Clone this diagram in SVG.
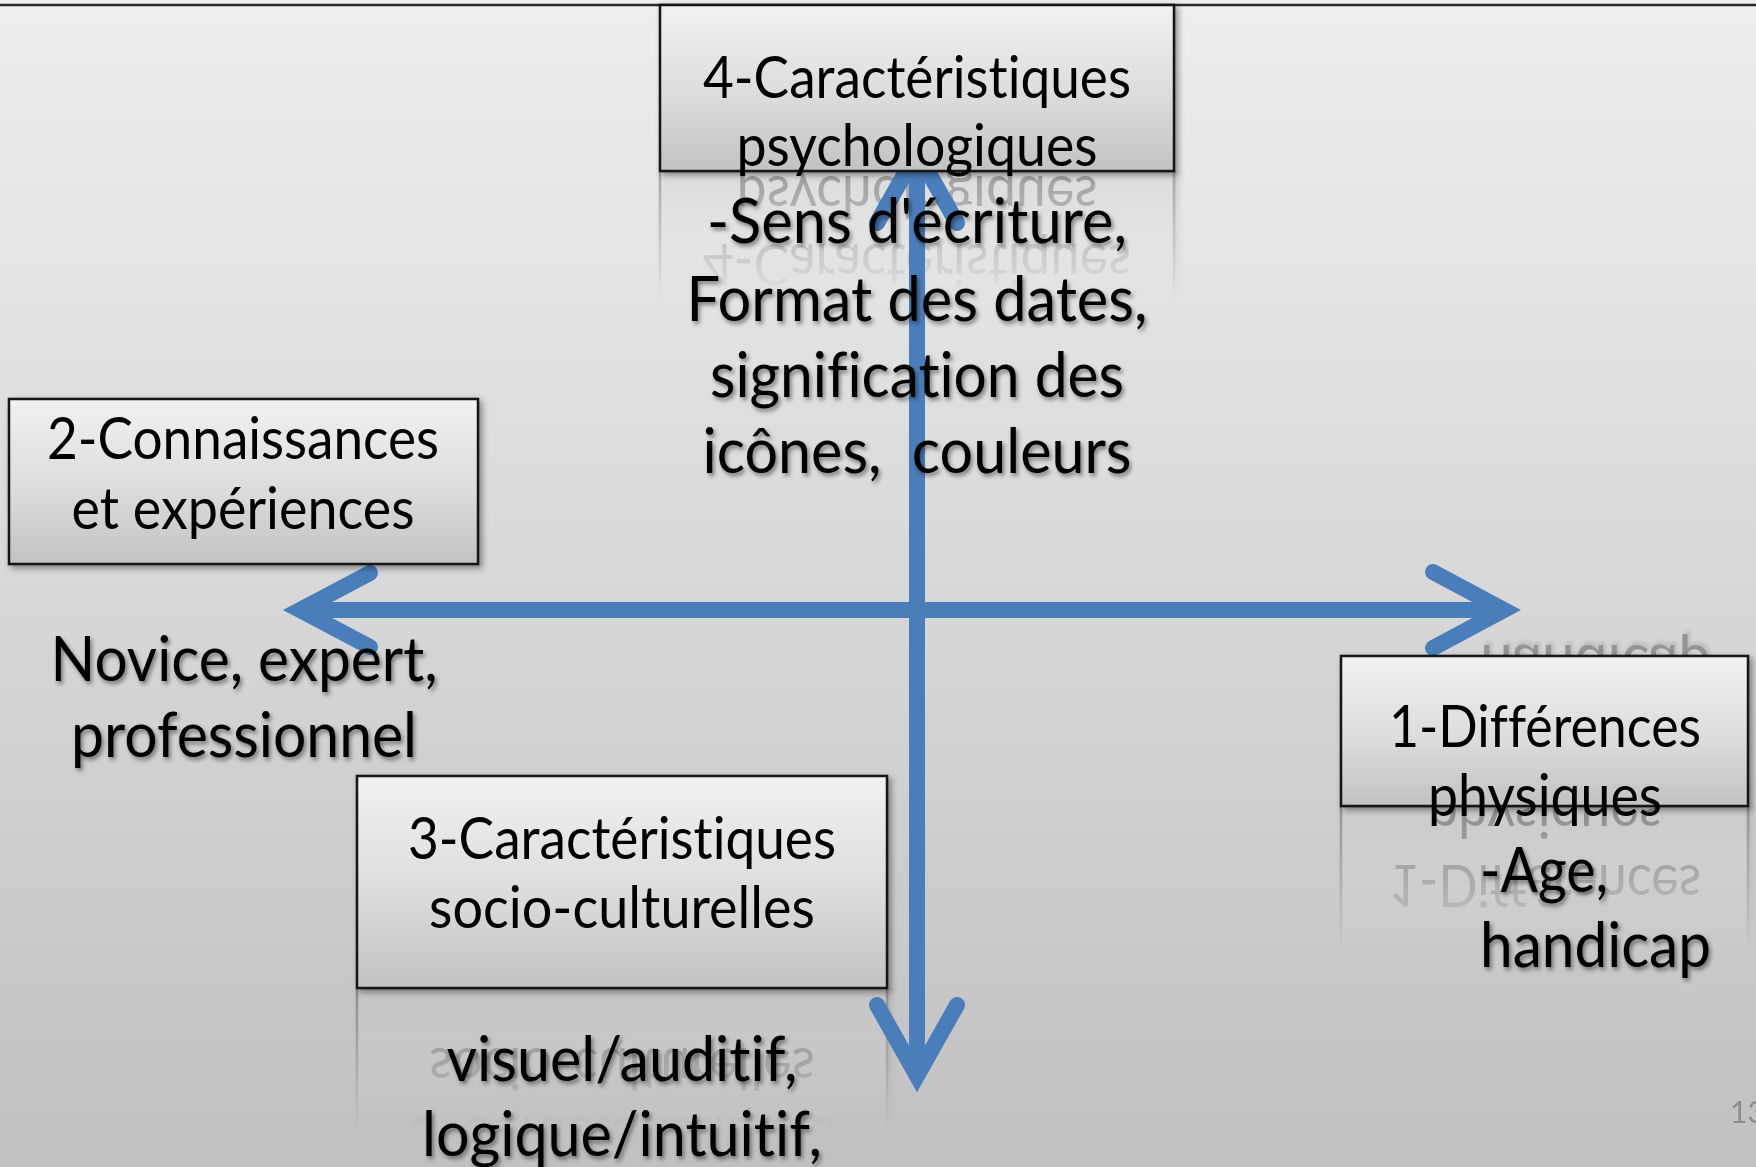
<svg xmlns="http://www.w3.org/2000/svg" width="1756" height="1167" viewBox="0 0 1756 1167">
<defs>
  <linearGradient id="bg" x1="0" y1="0" x2="0" y2="1">
    <stop offset="0" stop-color="#eeeeee"/>
    <stop offset="0.5" stop-color="#d8d8d8"/>
    <stop offset="1" stop-color="#c0c0c0"/>
  </linearGradient>
  <linearGradient id="boxfill" x1="0" y1="0" x2="0" y2="1">
    <stop offset="0" stop-color="#f1f1f1"/>
    <stop offset="0.55" stop-color="#dcdcdc"/>
    <stop offset="1" stop-color="#c2c2c2"/>
  </linearGradient>
  <filter id="boxShadow" x="-10%" y="-10%" width="130%" height="140%">
    <feDropShadow dx="3" dy="3" stdDeviation="3" flood-color="#000" flood-opacity="0.4"/>
  </filter>
  <filter id="txtShadow" x="-10%" y="-20%" width="130%" height="160%">
    <feDropShadow dx="2" dy="3" stdDeviation="2.2" flood-color="#000" flood-opacity="0.45"/>
  </filter>
  <linearGradient id="rg4" gradientUnits="userSpaceOnUse" x1="0" y1="171" x2="0" y2="300">
    <stop offset="0" stop-color="#fff" stop-opacity="0.32"/>
    <stop offset="1" stop-color="#fff" stop-opacity="0"/>
  </linearGradient>
  <linearGradient id="rg1" gradientUnits="userSpaceOnUse" x1="0" y1="806" x2="0" y2="950">
    <stop offset="0" stop-color="#fff" stop-opacity="0.32"/>
    <stop offset="1" stop-color="#fff" stop-opacity="0"/>
  </linearGradient>
  <linearGradient id="rg3" gradientUnits="userSpaceOnUse" x1="0" y1="988" x2="0" y2="1130">
    <stop offset="0" stop-color="#fff" stop-opacity="0.32"/>
    <stop offset="1" stop-color="#fff" stop-opacity="0"/>
  </linearGradient>
  <mask id="m4" maskUnits="userSpaceOnUse" x="0" y="0" width="1756" height="1167">
    <rect x="640" y="171" width="560" height="140" fill="url(#rg4)"/>
  </mask>
  <mask id="m1" maskUnits="userSpaceOnUse" x="0" y="0" width="1756" height="1167">
    <rect x="1320" y="806" width="436" height="150" fill="url(#rg1)"/>
    <rect x="1320" y="615" width="436" height="41" fill="#fff" fill-opacity="0.3"/>
  </mask>
  <mask id="m3" maskUnits="userSpaceOnUse" x="0" y="0" width="1756" height="1167">
    <rect x="340" y="988" width="570" height="150" fill="url(#rg3)"/>
  </mask>
</defs>
<style>
  .box{fill:url(#boxfill);stroke:#151515;stroke-width:2.5;filter:url(#boxShadow)}
  .t{font-family:Lato,"Open Sans","Liberation Sans",sans-serif;font-size:58px;fill:#000;text-anchor:middle;font-variant-ligatures:none;font-feature-settings:"liga" 0,"clig" 0}
  .free{font-size:62px;filter:url(#txtShadow)}
  .arrow{fill:none;stroke:#4a7ebb;stroke-width:16;stroke-linecap:round;stroke-linejoin:miter;stroke-miterlimit:10}
  .line{fill:none;stroke:#4a7ebb;stroke-width:16;stroke-linecap:butt}
  .pg{font-family:Lato,"Liberation Sans",sans-serif;font-size:30px;fill:#8c8c8c}
</style>

<rect x="0" y="0" width="1756" height="1167" fill="url(#bg)"/>
<line x1="0" y1="5" x2="1756" y2="5" stroke="#2a2a2a" stroke-width="2.5"/>

<g id="reflections">
  <g mask="url(#m4)"><use href="#node4" transform="matrix(1 0 0 -1 0 342)"/></g>
  <g mask="url(#m1)"><use href="#node1" transform="matrix(1 0 0 -1 0 1612)"/></g>
  <g mask="url(#m3)"><use href="#node3" transform="matrix(1 0 0 -1 0 1976)"/></g>
</g>

<g id="connectors">
  <path class="line" d="M300,610 H1504"/>
  <path class="arrow" d="M370,573 L300,610 L370,647"/>
  <path class="arrow" d="M1433,572 L1504,610 L1433,648"/>
  <path class="line" d="M917,152 V1076"/>
  <path class="arrow" d="M877,223 L917,152 L957,223"/>
  <path class="arrow" d="M877,1005 L917,1076 L957,1005"/>
</g>

<g id="node4">
  <rect class="box" x="660" y="5" width="514" height="166"/>
  <text class="t" x="917" y="98" textLength="428" lengthAdjust="spacingAndGlyphs">4-Caractéristiques</text>
  <text class="t" x="917" y="166" textLength="361" lengthAdjust="spacingAndGlyphs">psychologiques</text>
  <text class="t free" x="917" y="243" textLength="420" lengthAdjust="spacingAndGlyphs">-Sens d'écriture,</text>
  <text class="t free" x="917" y="321" textLength="461" lengthAdjust="spacingAndGlyphs">Format des dates,</text>
  <text class="t free" x="917" y="397" textLength="414" lengthAdjust="spacingAndGlyphs">signification des</text>
  <text class="t free" x="917" y="473" textLength="429" lengthAdjust="spacingAndGlyphs" style="white-space:pre">icônes,  couleurs</text>
</g>

<g id="node2">
  <rect class="box" x="9" y="399" width="469" height="165"/>
  <text class="t" x="243" y="459" textLength="392" lengthAdjust="spacingAndGlyphs">2-Connaissances</text>
  <text class="t" x="243" y="529" textLength="343" lengthAdjust="spacingAndGlyphs">et expériences</text>
  <text class="t free" x="244" y="681" textLength="387" lengthAdjust="spacingAndGlyphs">Novice, expert,</text>
  <text class="t free" x="244" y="757" textLength="346" lengthAdjust="spacingAndGlyphs">professionnel</text>
</g>

<g id="node3">
  <rect class="box" x="357" y="776" width="530" height="212"/>
  <text class="t" x="622" y="859" textLength="428" lengthAdjust="spacingAndGlyphs">3-Caractéristiques</text>
  <text class="t" x="622" y="928" textLength="386" lengthAdjust="spacingAndGlyphs">socio-culturelles</text>
  <text class="t free" x="622" y="1081" textLength="351" lengthAdjust="spacingAndGlyphs">visuel/auditif,</text>
  <text class="t free" x="622" y="1156" textLength="400" lengthAdjust="spacingAndGlyphs">logique/intuitif,</text>
</g>

<g id="node1">
  <rect class="box" x="1341" y="656" width="407" height="150"/>
  <text class="t" x="1545" y="747" textLength="312" lengthAdjust="spacingAndGlyphs">1-Différences</text>
  <text class="t" x="1545" y="816" textLength="234" lengthAdjust="spacingAndGlyphs">physiques</text>
  <text class="t free" x="1544" y="892" textLength="128" lengthAdjust="spacingAndGlyphs">-Age,</text>
  <text class="t free" x="1480" y="967" textLength="231" lengthAdjust="spacingAndGlyphs" style="text-anchor:start">handicap</text>
</g>

<text class="pg" x="1730" y="1123">13</text>
</svg>
